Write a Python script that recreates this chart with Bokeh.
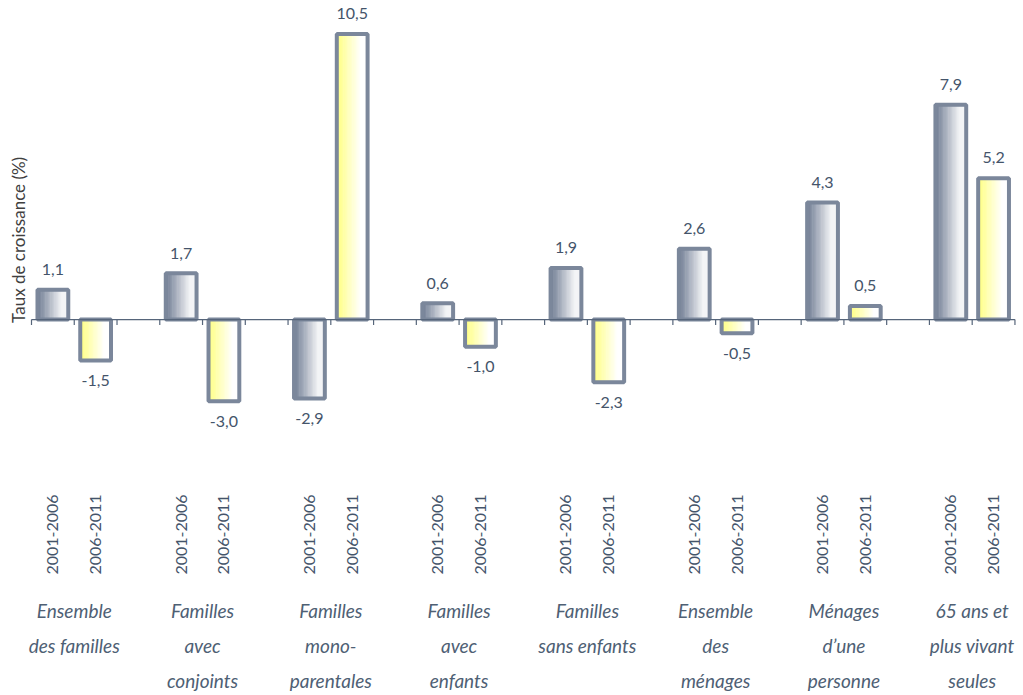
from bokeh.plotting import figure
from bokeh.models import Range1d
from bokeh.core.properties import value
from bokeh.embed import file_html
from bokeh.resources import INLINE
import math

# ---- data ----
groups = [
    ["Ensemble", "des familles"],
    ["Familles", "avec", "conjoints"],
    ["Familles", "mono-", "parentales"],
    ["Familles", "avec", "enfants"],
    ["Familles", "sans enfants"],
    ["Ensemble", "des", "ménages"],
    ["Ménages", "d\u2019une", "personne"],
    ["65 ans et", "plus vivant", "seules"],
]
periods = ["2001-2006", "2006-2011"]
values_2001_2006 = [1.1, 1.7, -2.9, 0.6, 1.9, 2.6, 4.3, 7.9]
values_2006_2011 = [-1.5, -3.0, 10.5, -1.0, -2.3, -0.5, 0.5, 5.2]
y_title = "Taux de croissance (%)"

# ---- styles ----
TEXT = "#44546A"
GROUP_TEXT = "#4e6074"
OUTLINE = "#7b879b"
AXIS = "#56657a"
FONT = "Lato"
BAR_W = 0.72
GRAD_GRAY = ((0x6e, 0x7b, 0x92), (0xf3, 0xf4, 0xf6))
GRAD_YEL = ((0xff, 0xff, 0x80), (0xff, 0xff, 0xff))

p = figure(width=1023, height=695, x_range=Range1d(-0.725, 23.2),
           y_range=Range1d(-13.82, 11.73), output_backend="svg",
           toolbar_location=None, min_border=0)
p.axis.visible = False
p.grid.visible = False
p.outline_line_color = None
p.background_fill_color = "white"

ng = len(groups)
n_slots = 3 * ng - 1

def hexc(c):
    return "#%02x%02x%02x" % tuple(int(round(v)) for v in c)

# gradient strips (fill of each bar)
N = 24
sl, sr, st, sb, sc = [], [], [], [], []
bx, bv = [], []
for s, (vals, grad) in enumerate([(values_2001_2006, GRAD_GRAY), (values_2006_2011, GRAD_YEL)]):
    for g, v in enumerate(vals):
        c = 3 * g + s + 0.5
        bx.append(c); bv.append(v)
        left = c - BAR_W / 2
        for k in range(N):
            t = (k + 0.5) / N
            f = min(1.0, t / 0.78)
            col = tuple(grad[0][i] + (grad[1][i] - grad[0][i]) * f for i in range(3))
            sl.append(left + BAR_W * k / N)
            sr.append(min(left + BAR_W * (k + 1) / N + 0.012, left + BAR_W))
            st.append(max(v, 0)); sb.append(min(v, 0)); sc.append(hexc(col))
p.quad(left=sl, right=sr, top=st, bottom=sb, fill_color=sc, line_color=None)
p.vbar(x=bx, width=BAR_W, top=bv, bottom=0, fill_color=None,
       line_color=OUTLINE, line_width=4)

# zero axis and ticks
p.segment(x0=[0], y0=[0], x1=[n_slots], y1=[0], line_color=AXIS, line_width=1.2)
ticks = list(range(n_slots + 1))
p.segment(x0=ticks, y0=[0] * len(ticks), x1=ticks, y1=[-0.2] * len(ticks),
          line_color=AXIS, line_width=1.2)

# value labels
off = 0.74
lab_y = [v + off if v >= 0 else v - off for v in bv]
lab_t = [f"{v:.1f}".replace(".", ",") for v in bv]
p.text(x=bx, y=lab_y, text=lab_t, text_align="center", text_baseline="middle",
       text_font=value(FONT), text_font_size="16px", text_color=TEXT)

# period labels (vertical)
px_, pt_ = [], []
for g in range(ng):
    for s in range(2):
        px_.append(3 * g + s + 0.5); pt_.append(periods[s])
p.text(x=px_, y=[-7.9] * len(px_), text=pt_, angle=math.pi / 2,
       text_align="center", text_baseline="middle",
       text_font=value(FONT), text_font_size="16px", text_color=TEXT)

# group labels
gx, gy, gt = [], [], []
line_ys = [-10.7, -11.99, -13.27]
for g, lines in enumerate(groups):
    for i, ln in enumerate(lines):
        gx.append(3 * g + 1.0); gy.append(line_ys[i]); gt.append(ln)
p.text(x=gx, y=gy, text=gt, text_align="center", text_baseline="middle",
       text_font=value(FONT), text_font_size="19px", text_font_style="italic",
       text_color=GROUP_TEXT)

# y title
p.text(x=[-0.30], y=[2.93], text=[y_title], angle=math.pi / 2,
       text_align="center", text_baseline="middle",
       text_font=value(FONT), text_font_size="17px", text_color="#404040")

open("out.html", "w").write(file_html(p, INLINE))
